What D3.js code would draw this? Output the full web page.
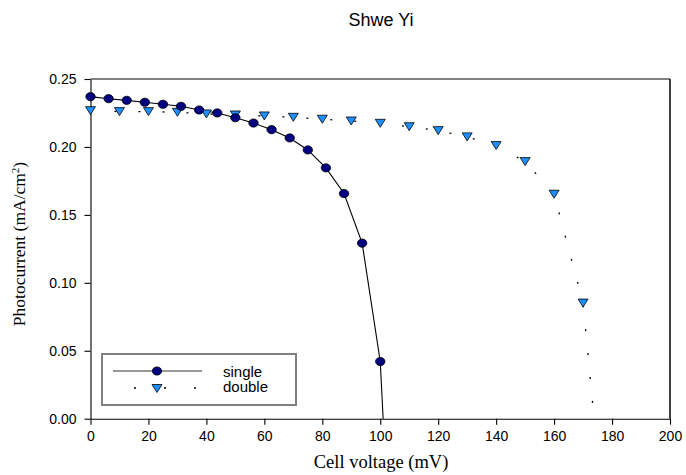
<!DOCTYPE html>
<html>
<head>
<meta charset="utf-8">
<script src="https://cdn.jsdelivr.net/npm/d3@7"></script>
<style>
  body { margin: 0; background: #fff; }
  svg text { font-family: "Liberation Sans", Arial, sans-serif; }
  .serif { font-family: "Liberation Serif", "Times New Roman", serif; }
</style>
</head>
<body>
<div id="chart"></div>
<script>
// photocurrent vs cell voltage, two cells
var singleV = [0, 6.25, 12.5, 18.75, 25, 31.25, 37.5, 43.75, 50, 56.25, 62.5, 68.75, 75, 81.25, 87.5, 93.75, 100],
    singleI = [0.237, 0.2355, 0.2343, 0.2329, 0.2314, 0.2299, 0.2272, 0.225, 0.2215, 0.2176, 0.2127, 0.2066, 0.1978, 0.1846, 0.1657, 0.1292, 0.0421],
    doubleV = [0, 10, 20, 30, 40, 50, 60, 70, 80, 90, 100, 110, 120, 130, 140, 150, 160, 170],
    doubleI = [0.2267, 0.226, 0.226, 0.2255, 0.2243, 0.2235, 0.2228, 0.2218, 0.2204, 0.2191, 0.2174, 0.2149, 0.212, 0.2074, 0.201, 0.1892, 0.1652, 0.0851],
    // where each curve runs down to the axis (no marker drawn there)
    singleEnd = [101, 0],
    doubleEnd = [173.8, 0],
    xTicks = [0, 20, 40, 60, 80, 100, 120, 140, 160, 180, 200],
    yTicks = [0, 0.05, 0.10, 0.15, 0.20, 0.25],
    seriesNames = ["single", "double"];

var W = 686, H = 475,
    pLeft = 90.5, pRight = 670, pTop = 79, pBottom = 418.7;

var svg = d3.select("#chart").append("svg")
    .attr("width", W).attr("height", H);

var x = d3.scaleLinear().domain([0, 200]).range([pLeft, pRight]);
var y = d3.scaleLinear().domain([0, 0.25]).range([pBottom, pTop]);

// frame top + right
svg.append("line").attr("x1", pLeft).attr("x2", pRight).attr("y1", pTop).attr("y2", pTop)
   .attr("stroke", "#808080").attr("stroke-width", 2);
svg.append("line").attr("x1", pRight).attr("x2", pRight).attr("y1", pTop).attr("y2", pBottom)
   .attr("stroke", "#000").attr("stroke-width", 1.5);

var xAxis = svg.append("g")
    .attr("transform", "translate(0," + pBottom + ")")
    .call(d3.axisBottom(x).tickValues(xTicks).tickSize(6).tickSizeOuter(0).tickPadding(6));
var yAxis = svg.append("g")
    .attr("transform", "translate(" + pLeft + ",0)")
    .call(d3.axisLeft(y).tickValues(yTicks).tickFormat(d3.format(".2f")).tickSize(6).tickSizeOuter(0).tickPadding(8));

[xAxis, yAxis].forEach(function(g){
  g.selectAll("path, line").attr("stroke", "#000").attr("stroke-width", 1.1);
  g.selectAll("text").attr("fill", "#000").style("font-size", "14px")
   .style("font-family", "'Liberation Sans', Arial, sans-serif");
});

var line = d3.line().x(function(d){ return x(d[0]); }).y(function(d){ return y(d[1]); });

var singlePts = singleV.map(function(v, i){ return [v, singleI[i]]; });
var doublePts = doubleV.map(function(v, i){ return [v, doubleI[i]]; });

svg.append("path").attr("d", line(doublePts.concat([doubleEnd])))
   .attr("fill", "none").attr("stroke", "#000").attr("stroke-width", 1.3)
   .attr("stroke-dasharray", "2,22");
svg.append("path").attr("d", line(singlePts.concat([singleEnd])))
   .attr("fill", "none").attr("stroke", "#000").attr("stroke-width", 1.1);

var tri = "M-5,-4L5,-4L0,4Z";

svg.selectAll(".dbl").data(doublePts).enter().append("path")
   .attr("class", "dbl")
   .attr("transform", function(d){ return "translate(" + x(d[0]) + "," + y(d[1]) + ")"; })
   .attr("d", tri).attr("fill", "#1E90FF").attr("stroke", "#000").attr("stroke-width", 0.8);

svg.selectAll(".sgl").data(singlePts).enter().append("ellipse")
   .attr("class", "sgl")
   .attr("cx", function(d){ return x(d[0]); }).attr("cy", function(d){ return y(d[1]); })
   .attr("rx", 4.7).attr("ry", 4.1)
   .attr("fill", "#000080").attr("stroke", "#000").attr("stroke-width", 0.8);

// legend
var lg = svg.append("g");
lg.append("rect").attr("x", 102).attr("y", 354).attr("width", 194).attr("height", 51)
  .attr("fill", "#fff").attr("stroke", "#808080").attr("stroke-width", 2);
lg.append("line").attr("x1", 113).attr("x2", 202).attr("y1", 371).attr("y2", 371)
  .attr("stroke", "#333").attr("stroke-width", 1.1);
lg.append("ellipse").attr("cx", 157).attr("cy", 371).attr("rx", 4.7).attr("ry", 4.1)
  .attr("fill", "#000080").attr("stroke", "#000").attr("stroke-width", 0.8);
lg.append("line").attr("x1", 134).attr("x2", 196).attr("y1", 388).attr("y2", 388)
  .attr("stroke", "#000").attr("stroke-width", 1.3).attr("stroke-dasharray", "2,28");
lg.append("path").attr("transform", "translate(157,388.5)").attr("d", tri)
  .attr("fill", "#1E90FF").attr("stroke", "#000").attr("stroke-width", 0.8);
lg.selectAll(".lt").data(seriesNames).enter().append("text")
  .attr("x", 223).attr("y", function(d, i){ return 376.5 + i * 15.5; })
  .style("font-size", "15px").text(function(d){ return d; });

// title and axis labels
svg.append("text").attr("x", 381).attr("y", 26).attr("text-anchor", "middle")
   .style("font-size", "18px").text("Shwe Yi");

svg.append("text").attr("class", "serif").attr("x", 381).attr("y", 468)
   .attr("text-anchor", "middle").style("font-size", "18.5px").text("Cell voltage (mV)");

var yl = svg.append("text").attr("class", "serif")
   .attr("transform", "translate(25,244) rotate(-90)")
   .attr("text-anchor", "middle").style("font-size", "17.5px");
yl.append("tspan").text("Photocurrent (mA/cm");
yl.append("tspan").attr("dy", -6).style("font-size", "11px").text("2");
yl.append("tspan").attr("dy", 6).text(")");
</script>
</body>
</html>
